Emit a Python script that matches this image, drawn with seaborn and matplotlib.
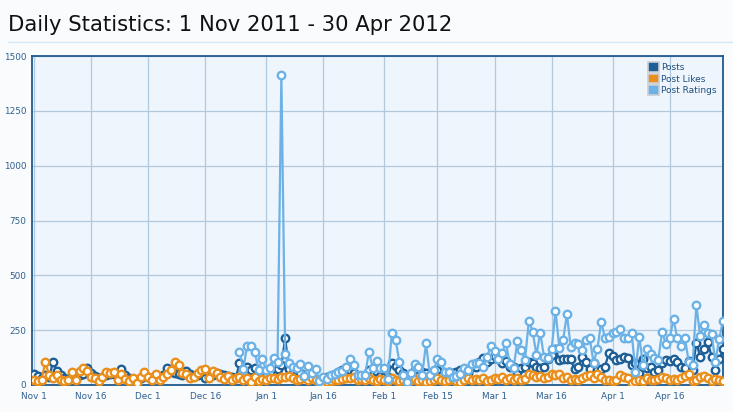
import numpy as np
import pandas as pd
import matplotlib
matplotlib.use("Agg")
import matplotlib.pyplot as plt
from matplotlib.patches import Patch
from matplotlib.lines import Line2D
import seaborn as sns

# Daily values, 1 Nov 2011 .. 30 Apr 2012 (182 days)
dates = pd.date_range("2011-11-01", "2012-04-30", freq="D")

posts = [
    50, 40, 30, 45, 35, 103, 62, 45, 30, 28,
    40, 35, 45, 50, 76, 55, 40, 30, 35, 45,
    50, 48, 40, 71, 45, 30, 25, 20, 30, 40,
    35, 30, 38, 30, 45, 76, 60, 55, 50, 45,
    62, 50, 40, 45, 55, 30, 35, 45, 53, 50,
    46, 40, 35, 30,
    99, 73, 82, 68, 79, 61, 53, 46, 61, 91,
    73, 90, 213, 73, 53, 64, 53, 35, 53, 35,
    26, 15, 26, 35, 41, 50, 61, 68, 61, 68,
    53, 41, 41, 41, 68, 46, 61, 41, 35, 38,
    102, 87,
    68, 56, 15, 35, 68, 41, 61, 53, 38, 61,
    68, 41, 30, 61, 53, 60, 68, 53, 56, 84,
    84, 106, 122, 106, 117, 132, 117, 100, 110, 84,
    84, 61, 76, 84, 106, 99, 81, 76, 84, 117, 137,
    163, 114, 117, 117, 117, 71, 84, 129, 106, 71,
    102, 68, 71, 84, 144, 132, 114, 117, 129, 122,
    91, 99, 56, 117, 76, 84, 61, 68, 102, 114,
    111, 117, 106, 84, 76, 111, 68, 193, 129, 163,
    198, 129, 68, 117, 163,
]

post_likes = [
    23, 18, 25, 103, 44, 30, 44, 23, 20, 25,
    57, 23, 62, 76, 62, 35, 30, 18, 38, 57,
    53, 57, 25, 50, 28, 17, 30, 7, 35, 57,
    35, 23, 50, 23, 38, 50, 68, 103, 93, 53,
    50, 30, 38, 53, 68, 71, 30, 62,
    55, 35, 28, 42, 22, 30, 38, 25, 32, 12,
    35, 20, 28, 25, 30, 33, 28, 35, 38, 40,
    30, 25, 28, 35, 22, 30, 25, 12, 8, 15,
    20, 22, 25, 28, 30, 32, 35, 25, 28, 22,
    30, 25, 20, 28, 22, 18, 30, 25,
    20, 25, 15, 22, 28, 18, 25, 12, 20, 25,
    30, 22, 18, 25, 28, 20, 15, 25, 30, 22,
    28, 25, 32, 20, 25, 30, 28, 35, 22, 30,
    25, 30, 22, 28, 50, 45, 35, 40, 30, 38,
    50, 45, 48, 30, 35, 22, 28, 25, 30, 40,
    45, 32, 50, 35, 22, 25, 20, 25, 45, 38,
    30, 8, 20, 25, 18, 30, 25, 22, 28, 35,
    30, 25, 28, 22, 30, 40, 50, 20, 25, 35,
    42, 30, 18, 28, 25, 20,
]

# ratings only start on 24 Dec
post_ratings = [np.nan] * 54 + [
    152, 73, 178, 178, 152, 68, 120, 68, 76, 123,
    106, 1414, 140, 102, 84, 76, 95, 41, 87, 53,
    71, 20, 35, 27, 46, 50, 61, 64, 80, 117,
    91, 46, 46, 46, 152, 76, 109, 76, 79, 27,
    236, 205,
    106, 46, 15, 56, 96, 84, 46, 190, 46, 68,
    117, 106, 61, 61, 35, 42, 50, 76, 68, 96,
    99, 99, 81, 126, 178, 157, 117, 147, 193, 94,
    76, 202, 160, 114, 293, 243, 137, 239, 126, 122, 163,
    339,
    170, 205, 322, 175, 193, 187, 160, 205, 213, 102,
    163, 289, 213, 220, 236, 243, 254, 213, 216, 239,
    61, 220, 91, 164, 140, 122, 114, 243, 187, 213,
    300, 213, 178, 213, 106, 91, 365, 223, 274, 239,
    233, 106, 210, 293,
]

series_names = ["Posts", "Post Likes", "Post Ratings"]
series_colors = ["#1d5f96", "#ea8f1b", "#6cb2e6"]
tick_dates = ["2011-11-01", "2011-11-16", "2011-12-01", "2011-12-16", "2012-01-01", "2012-01-16",
              "2012-02-01", "2012-02-15", "2012-03-01", "2012-03-16", "2012-04-01", "2012-04-16"]
tick_labels = ["Nov 1", "Nov 16", "Dec 1", "Dec 16", "Jan 1", "Jan 16",
               "Feb 1", "Feb 15", "Mar 1", "Mar 16", "Apr 1", "Apr 16"]
y_ticks = [0, 250, 500, 750, 1000, 1250, 1500]

df = pd.DataFrame({"date": dates, "Posts": posts, "Post Likes": post_likes, "Post Ratings": post_ratings})

sns.set_theme(style="white")
plt.rcParams["font.family"] = ["DejaVu Sans"]

fig = plt.figure(figsize=(7.33, 4.12), dpi=100, facecolor="#f9fbfd")
ax = fig.add_axes([32 / 733, 1 - 385 / 412, (723 - 32) / 733, (385 - 56) / 412])
ax.set_facecolor("#eef5fc")

for name, color in zip(series_names, series_colors):
    sns.lineplot(data=df, x="date", y=name, ax=ax, color=color, linewidth=1.6,
                 marker="o", markersize=5.4, markerfacecolor="white",
                 markeredgecolor=color, markeredgewidth=1.7, zorder=3)

ax.set_ylim(0, 1500)
ax.set_yticks(y_ticks)
ax.set_xlim(dates[0] - pd.Timedelta(hours=12), dates[-1])
ax.set_xticks(pd.to_datetime(tick_dates))
ax.set_xticklabels(tick_labels)
ax.set_xlabel("")
ax.set_ylabel("")

ax.grid(True, color="#b2c9dd", linewidth=0.9)
ax.set_axisbelow(True)
for sp in ax.spines.values():
    sp.set_color("#1f5a8e")
    sp.set_linewidth(1.3)
ax.tick_params(axis="both", length=0, labelsize=6.4, labelcolor="#2f5f8f")
ax.tick_params(axis="x", pad=5)
ax.tick_params(axis="y", pad=4)

handles = [Patch(facecolor=c, edgecolor="#c9ced4", linewidth=1.2) for c in series_colors]
ax.legend(handles, series_names, loc="upper right", frameon=False, fontsize=6.5,
          labelcolor="#1f4f7f", handlelength=1.3, handleheight=1.3, handletextpad=0.2,
          labelspacing=0.15, borderaxespad=0.3, bbox_to_anchor=(1.0, 1.0))

# Page title and the thin rule under it
fig.text(8 / 733, 1 - 31 / 412, "Daily Statistics: 1 Nov 2011 - 30 Apr 2012",
         fontsize=15.2, color="#111111", ha="left", va="baseline")
fig.add_artist(Line2D([8 / 733, 1.0], [1 - 42 / 412, 1 - 42 / 412],
                      color="#d5e8f6", linewidth=1.0))

fig.savefig("out.png", dpi=100, facecolor=fig.get_facecolor())
